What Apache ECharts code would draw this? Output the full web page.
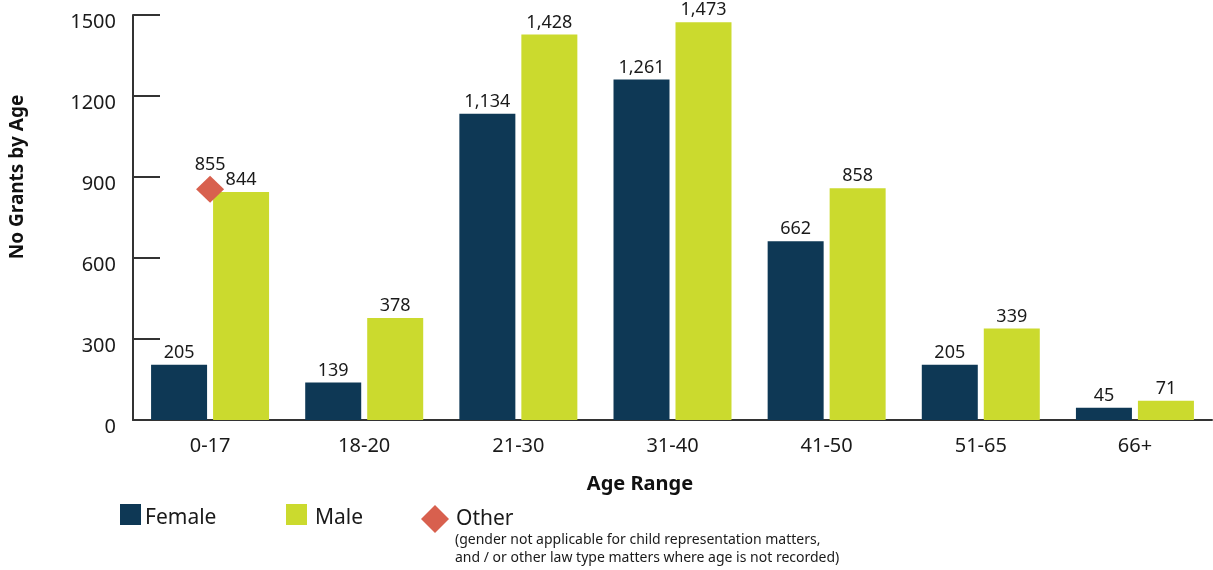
<!DOCTYPE html>
<html>
<head>
<meta charset="utf-8">
<script src="https://cdn.jsdelivr.net/npm/echarts@6/dist/echarts.min.js"></script>
<style>
  html, body { margin: 0; padding: 0; background: #fff; }
  #chart { width: 1213px; height: 570px; }
</style>
</head>
<body>
<div id="chart"></div>
<script>
// Grants by age range and gender
const ageRanges = ['0-17', '18-20', '21-30', '31-40', '41-50', '51-65', '66+'];
const female = [205, 139, 1134, 1261, 662, 205, 45];
const male = [844, 378, 1428, 1473, 858, 339, 71];
const other = [855, null, null, null, null, null, null];
const yTicks = [0, 300, 600, 900, 1200, 1500];

const FONT = 'Noto Sans';
const COL_F = '#0e3855';
const COL_M = '#cbda2e';
const COL_O = '#d8604e';
const AXIS = '#333333';
const TEXT = '#1a1a1a';

const fmt = p => Number(p.value).toLocaleString('en-US');
// legend names drawn a few pixels below the swatch centre
const legendText = (pad) => ({
  fontSize: 21, color: TEXT, fontFamily: FONT,
  rich: { t: { fontSize: 21, color: TEXT, fontFamily: FONT, padding: pad } }
});

const chart = echarts.init(document.getElementById('chart'));
chart.setOption({
  animation: false,
  textStyle: { fontFamily: FONT },
  grid: { left: 133, right: 1, top: 15, bottom: 150, containLabel: false },
  xAxis: {
    type: 'category',
    data: ageRanges,
    axisLine: { lineStyle: { color: AXIS, width: 2 } },
    axisTick: { inside: true, length: 11, lineStyle: { color: AXIS, width: 2 } },
    axisLabel: { color: TEXT, fontSize: 20, margin: 16, fontFamily: FONT }
  },
  yAxis: {
    type: 'value',
    min: yTicks[0],
    max: yTicks[yTicks.length - 1],
    interval: yTicks[1] - yTicks[0],
    splitLine: { show: false },
    axisLine: { show: true, lineStyle: { color: AXIS, width: 2 } },
    axisTick: { show: true, inside: true, length: 27, lineStyle: { color: AXIS, width: 2 } },
    axisLabel: {
      color: TEXT, fontSize: 20, margin: 17, fontFamily: FONT,
      verticalAlign: 'top', lineHeight: 14,
      formatter: v => String(v)
    }
  },
  legend: [
    {
      data: ['Female'], left: 120, top: 504, padding: 0, itemWidth: 21, itemHeight: 21, itemGap: 0,
      icon: 'rect', formatter: n => '{t|' + n + '}', textStyle: legendText([8, 0, 0, -1])
    },
    {
      data: ['Male'], left: 286, top: 504, padding: 0, itemWidth: 21, itemHeight: 21, itemGap: 0,
      icon: 'rect', formatter: n => '{t|' + n + '}', textStyle: legendText([8, 0, 0, 3])
    },
    {
      data: ['Other'], left: 421, top: 505, padding: 0, itemWidth: 28, itemHeight: 28, itemGap: 0,
      icon: 'diamond', textStyle: { fontSize: 21, color: TEXT, fontFamily: FONT, padding: [0, 0, 2, 2] }
    }
  ],
  graphic: [
    {
      type: 'text', left: 455, top: 531,
      style: {
        text: '(gender not applicable for child representation matters,\nand / or other law type matters where age is not recorded)',
        fontSize: 14, lineHeight: 18, fill: TEXT, fontFamily: FONT
      }
    },
    {
      type: 'text', x: 640, y: 484,
      style: { text: 'Age Range', fontSize: 20, fontWeight: 'bold', fill: '#111', fontFamily: FONT, align: 'center', verticalAlign: 'middle' }
    },
    {
      type: 'text', x: 18, y: 177, rotation: Math.PI / 2,
      style: { text: 'No Grants by Age', fontSize: 19, fontWeight: 'bold', fill: '#111', fontFamily: FONT, align: 'center', verticalAlign: 'middle' }
    }
  ],
  series: [
    {
      name: 'Female', type: 'bar', data: female, barWidth: 56, barGap: '10.7%',
      itemStyle: { color: COL_F },
      label: { show: true, position: 'top', distance: 3, fontSize: 18, color: TEXT, fontFamily: FONT, formatter: fmt }
    },
    {
      name: 'Male', type: 'bar', data: male, barWidth: 56,
      itemStyle: { color: COL_M },
      label: { show: true, position: 'top', distance: 3, fontSize: 18, color: TEXT, fontFamily: FONT, formatter: fmt }
    },
    {
      name: 'Other', type: 'scatter', data: other, symbol: 'diamond', symbolSize: [28, 27], z: 5,
      itemStyle: { color: COL_O, opacity: 1 },
      label: { show: true, position: 'top', distance: 2, fontSize: 18, color: TEXT, fontFamily: FONT, formatter: fmt }
    }
  ]
});
</script>
</body>
</html>
